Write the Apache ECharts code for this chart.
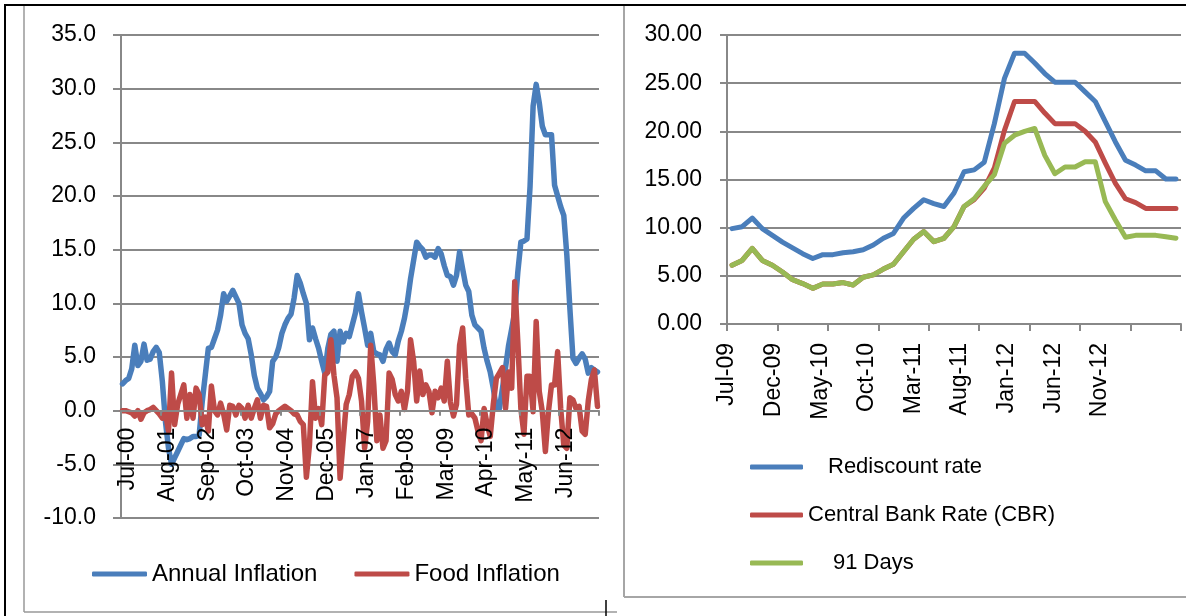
<!DOCTYPE html>
<html>
<head>
<meta charset="utf-8">
<title>Inflation and interest rates</title>
<script src="https://cdn.jsdelivr.net/npm/echarts/dist/echarts.min.js"></script>
<style>
  html, body { margin: 0; padding: 0; background: #ffffff; }
  #chart { width: 1186px; height: 616px; }
</style>
</head>
<body>
<div id="chart"></div>
<script>
// Month labels such as "Jul-00"
const MONTH_NAMES = ['Jan','Feb','Mar','Apr','May','Jun','Jul','Aug','Sep','Oct','Nov','Dec'];
function monthLabels(startYear, startMonth, count) {
  const out = [];
  for (let i = 0; i < count; i++) {
    const m = startMonth + i;
    const y = startYear + Math.floor(m / 12);
    out.push(MONTH_NAMES[m % 12] + '-' + String(y % 100).padStart(2, '0'));
  }
  return out;
}

// ---- Inflation panel (monthly, Jul-00 .. Jun-13) ----
const inflationMonths = monthLabels(2000, 6, 156);
const inflationRange = [-10, 35];

const annualInflation = [
  2.5, 2.8, 3.0, 3.9, 6.1, 4.2, 4.6, 6.2, 4.7, 4.8,
  5.5, 5.9, 5.4, 2.7, -1.0, -3.5, -5.0, -4.4, -3.8, -3.2,
  -2.6, -2.7, -2.6, -2.4, -2.4, -2.3, 0.8, 3.3, 5.8, 5.9,
  6.7, 7.5, 8.9, 10.9, 10.2, 10.7, 11.2, 10.6, 10.0, 8.0,
  7.2, 6.7, 5.2, 3.3, 2.1, 1.6, 1.0, 1.3, 1.8, 4.6,
  5.0, 5.9, 7.2, 8.0, 8.6, 9.0, 10.5, 12.6, 11.9, 10.9,
  10.0, 6.6, 7.7, 6.7, 5.8, 4.6, 3.5, 5.8, 7.1, 7.4,
  4.6, 7.4, 6.4, 7.2, 6.9, 8.0, 9.1, 10.9, 9.2, 7.7,
  6.1, 7.2, 5.5, 5.3, 5.2, 4.6, 5.7, 6.3, 5.5, 5.2,
  6.5, 7.4, 8.6, 10.2, 12.3, 14.0, 15.7, 15.3, 15.0, 14.3,
  14.5, 14.5, 14.3, 15.1, 14.6, 13.5, 12.6, 12.5, 11.7, 12.6,
  14.8, 13.2, 11.7, 11.1, 8.9, 8.0, 7.7, 7.4, 5.8, 4.6,
  3.6, 2.1, 0.2, 0.2, 2.1, 4.0, 6.1, 7.6, 9.2, 12.9,
  15.7, 15.8, 16.0, 20.9, 28.4, 30.4, 28.7, 26.5, 25.7, 25.7,
  25.7, 21.0, 20.0, 19.0, 18.2, 14.5, 9.5, 4.9, 4.4, 4.9,
  5.3, 4.8, 3.5, 4.0, 3.8, 3.6
];

const foodInflation = [
  0.0, 0.0, -0.1, -0.2, -0.5, 0.0, -0.8, -0.2, 0.0, 0.1,
  0.3, 0.0, -0.3, -0.7, -0.2, -1.9, 3.5, -1.3, 0.6, 1.5,
  2.4, -0.7, 1.5, -0.7, 2.1, 1.5, -1.3, -0.6, -1.9, 2.3,
  0.0, -0.4, 0.7, -0.3, -1.8, 0.5, 0.4, -0.4, 0.5, 0.2,
  -0.7, 0.5, -0.7, 0.2, 1.0, -0.7, 0.5, 0.4, -1.6, -1.2,
  -0.3, 0.0, 0.2, 0.4, 0.2, 0.0, -0.3, -0.4, -1.0, -1.3,
  -6.2, -3.2, 2.7, -0.7, 0.2, -1.3, 3.3, 3.6, 6.6, 3.3,
  1.2, -6.3, -2.8, 0.6, 1.5, 3.2, 3.6, 3.0, 0.9, -3.5,
  -1.0, 6.1, 2.4, -2.8, -0.4, -3.5, -2.8, 3.5, 2.9, 1.5,
  0.9, 1.8, 0.1, 1.8, 6.6, 4.6, 0.9, 3.7, 1.5, 2.4,
  1.8, -0.2, 1.8, 1.2, 2.1, 0.9, 4.6, 0.8, -0.5, 0.6,
  6.1, 7.7, 3.0, -0.4, -0.3, -0.7, -1.9, -2.8, 0.2, -1.3,
  -2.4, 0.6, 3.0, 3.5, 4.0, 0.2, 3.6, 2.1, 12.0, 6.4,
  0.2, -2.2, 3.2, 3.2, -0.1, 8.3, 1.8, -0.1, -3.8, -0.1,
  2.4, 2.4, 5.5, 0.2, -3.2, -3.5, 1.2, 1.0, 0.2, 0.4,
  -1.9, -2.2, 0.9, 2.9, 3.8, 0.4
];

// ---- Interest rate panel (monthly, Jul-09 .. Mar-13) ----
const rateMonths = monthLabels(2009, 6, 45);
const rateAxisLabels = ['Jul-09', 'Dec-09', 'May-10', 'Oct-10', 'Mar-11', 'Aug-11', 'Jan-12', 'Jun-12', 'Nov-12'];

const rediscountRate = [
  9.9, 10.1, 11.0, 9.9, 9.2, 8.5, 7.9, 7.3, 6.8, 7.2,
  7.2, 7.4, 7.5, 7.7, 8.2, 8.9, 9.4, 11.0, 12.0, 12.9,
  12.5, 12.2, 13.6, 15.8, 16.0, 16.8, 20.8, 25.5, 28.1, 28.1,
  27.1, 26.0, 25.1, 25.1, 25.1, 24.1, 23.1, 21.0, 18.9, 17.0,
  16.5, 15.9, 15.9, 15.05, 15.05
];

const centralBankRate = [
  6.1, 6.6, 7.85, 6.6, 6.1, 5.4, 4.6, 4.2, 3.7, 4.15,
  4.15, 4.3, 4.05, 4.85, 5.1, 5.7, 6.2, 7.5, 8.8, 9.6,
  8.55, 8.9, 10.1, 12.2, 12.9, 14.1, 16.2, 20.1, 23.1, 23.1,
  23.1, 21.9, 20.8, 20.8, 20.8, 20.0, 18.9, 16.7, 14.6, 13.0,
  12.6, 12.0, 12.0, 12.0, 12.0
];

const days91 = [
  6.1, 6.6, 7.85, 6.6, 6.1, 5.4, 4.6, 4.2, 3.7, 4.15,
  4.15, 4.3, 4.05, 4.85, 5.1, 5.7, 6.2, 7.5, 8.8, 9.6,
  8.55, 8.9, 10.1, 12.2, 13.0, 14.3, 15.5, 18.75, 19.6, 20.0,
  20.3, 17.5, 15.6, 16.3, 16.3, 16.85, 16.85, 12.7, 10.8, 9.0,
  9.2, 9.2, 9.2, 9.05, 8.9
];

const BLUE = '#4A7EBB';
const RED = '#BE4B48';
const GREEN = '#98B954';
const GRID_GREY = '#888888';
const FONT = '"Liberation Sans", Arial, sans-serif';

// Inflation plot box
const INF_GRID = { left: 121, top: 35, width: 478, height: 483 };
// Lift the category axis from the bottom of the box up to the zero line
const zeroLineOffset = -((0 - inflationRange[0]) / (inflationRange[1] - inflationRange[0])) * INF_GRID.height;

function lineSeries(name, data, color, axisIndex, width) {
  return {
    name: name,
    type: 'line',
    xAxisIndex: axisIndex,
    yAxisIndex: axisIndex,
    data: data,
    showSymbol: false,
    symbol: 'none',
    smooth: false,
    lineStyle: { color: color, width: width, cap: 'round', join: 'round' },
    itemStyle: { color: color },
    emphasis: { disabled: true }
  };
}

const axisLabelBase = { color: '#000000', fontFamily: FONT, fontSize: 23 };

const chart = echarts.init(document.getElementById('chart'), null, { renderer: 'canvas' });

chart.setOption({
  animation: false,
  backgroundColor: '#ffffff',
  textStyle: { fontFamily: FONT },
  grid: [
    Object.assign({ outerBoundsMode: 'none', containLabel: false }, INF_GRID),
    { left: 727, top: 35, width: 454, height: 289, outerBoundsMode: 'none', containLabel: false },
    { left: 727, top: 35, width: 373, height: 289, outerBoundsMode: 'none', containLabel: false }
  ],
  xAxis: [
    {
      gridIndex: 0,
      type: 'category',
      position: 'bottom',
      offset: zeroLineOffset,
      data: inflationMonths,
      boundaryGap: true,
      z: 5,
      axisLine: { show: true, onZero: false, lineStyle: { color: GRID_GREY, width: 2 } },
      axisTick: { show: true, interval: 12, length: 5, lineStyle: { color: GRID_GREY, width: 2 } },
      // labels sit a little to the right of their month
      axisLabel: Object.assign({}, axisLabelBase, {
        interval: 12, rotate: 90, margin: 17, verticalAlign: 'top', lineHeight: 10
      }),
      splitLine: { show: false }
    },
    {
      gridIndex: 1,
      type: 'category',
      data: rateMonths,
      boundaryGap: true,
      axisLine: { show: true, onZero: false, lineStyle: { color: GRID_GREY, width: 2 } },
      axisTick: { show: true, interval: 4, length: 7, lineStyle: { color: GRID_GREY, width: 2 } },
      axisLabel: { show: false },
      splitLine: { show: false }
    },
    {
      gridIndex: 2,
      type: 'category',
      data: rateAxisLabels,
      boundaryGap: false,
      z: 5,
      axisLine: { show: false, onZero: false },
      axisTick: { show: false },
      axisLabel: Object.assign({}, axisLabelBase, { interval: 0, rotate: 90, margin: 19 }),
      splitLine: { show: false }
    }
  ],
  yAxis: [
    {
      gridIndex: 0,
      type: 'value',
      min: inflationRange[0], max: inflationRange[1], interval: 5,
      axisLine: { show: true, lineStyle: { color: GRID_GREY, width: 2 } },
      axisTick: { show: true, length: 8, lineStyle: { color: GRID_GREY, width: 2 } },
      axisLabel: Object.assign({}, axisLabelBase, { margin: 25, formatter: v => v.toFixed(1) }),
      splitLine: { show: true, lineStyle: { color: GRID_GREY, width: 2 } }
    },
    {
      gridIndex: 1,
      type: 'value',
      min: 0, max: 30, interval: 5,
      axisLine: { show: true, lineStyle: { color: GRID_GREY, width: 2 } },
      axisTick: { show: true, length: 7, lineStyle: { color: GRID_GREY, width: 2 } },
      axisLabel: Object.assign({}, axisLabelBase, { margin: 25, formatter: v => v.toFixed(2) }),
      splitLine: { show: true, lineStyle: { color: GRID_GREY, width: 2 } }
    },
    {
      gridIndex: 2,
      type: 'value',
      show: false,
      min: 0, max: 1
    }
  ],
  legend: [
    {
      orient: 'horizontal',
      left: 92, top: 560,
      padding: 0,
      itemWidth: 55, itemHeight: 5, itemGap: 37,
      icon: 'roundRect',
      selectedMode: false,
      data: ['Annual Inflation', 'Food Inflation'],
      textStyle: { color: '#000000', fontFamily: FONT, fontSize: 24, lineHeight: 28 }
    },
    {
      orient: 'vertical',
      left: 750, top: 453,
      padding: 0,
      itemWidth: 53, itemHeight: 5, itemGap: 20,
      icon: 'roundRect',
      selectedMode: false,
      data: ['Rediscount rate', 'Central Bank Rate (CBR)', '91 Days'],
      formatter: function (name) {
        if (name === 'Rediscount rate') return '{i20| }' + name;
        if (name === '91 Days') return '{i25| }' + name;
        return name;
      },
      textStyle: {
        color: '#000000', fontFamily: FONT, fontSize: 22, lineHeight: 28,
        rich: {
          i20: { width: 20, lineHeight: 28, fontSize: 22 },
          i25: { width: 25, lineHeight: 28, fontSize: 22 }
        }
      }
    }
  ],
  series: [
    lineSeries('Annual Inflation', annualInflation, BLUE, 0, 5.5),
    lineSeries('Food Inflation', foodInflation, RED, 0, 5.5),
    lineSeries('Rediscount rate', rediscountRate, BLUE, 1, 5),
    lineSeries('Central Bank Rate (CBR)', centralBankRate, RED, 1, 5),
    lineSeries('91 Days', days91, GREEN, 1, 5)
  ],
  graphic: [
    // outer frame
    { type: 'line', silent: true, z: -1, shape: { x1: 4, y1: 5, x2: 1186, y2: 5 }, style: { stroke: '#000000', lineWidth: 2 } },
    { type: 'line', silent: true, z: -1, shape: { x1: 5, y1: 4, x2: 5, y2: 616 }, style: { stroke: '#000000', lineWidth: 2 } },
    // inflation panel border
    { type: 'line', silent: true, z: -1, shape: { x1: 24, y1: 6, x2: 24, y2: 612 }, style: { stroke: '#999999', lineWidth: 1.5 } },
    { type: 'line', silent: true, z: -1, shape: { x1: 24, y1: 612, x2: 617, y2: 612 }, style: { stroke: '#999999', lineWidth: 1.5 } },
    { type: 'line', silent: true, z: -1, shape: { x1: 606, y1: 600, x2: 606, y2: 616 }, style: { stroke: '#000000', lineWidth: 1.5 } },
    // rate panel border
    { type: 'line', silent: true, z: -1, shape: { x1: 624, y1: 6, x2: 624, y2: 597 }, style: { stroke: '#a6a6a6', lineWidth: 2 } },
    { type: 'line', silent: true, z: -1, shape: { x1: 624, y1: 597, x2: 1186, y2: 597 }, style: { stroke: '#a6a6a6', lineWidth: 2 } }
  ]
});
</script>
</body>
</html>
